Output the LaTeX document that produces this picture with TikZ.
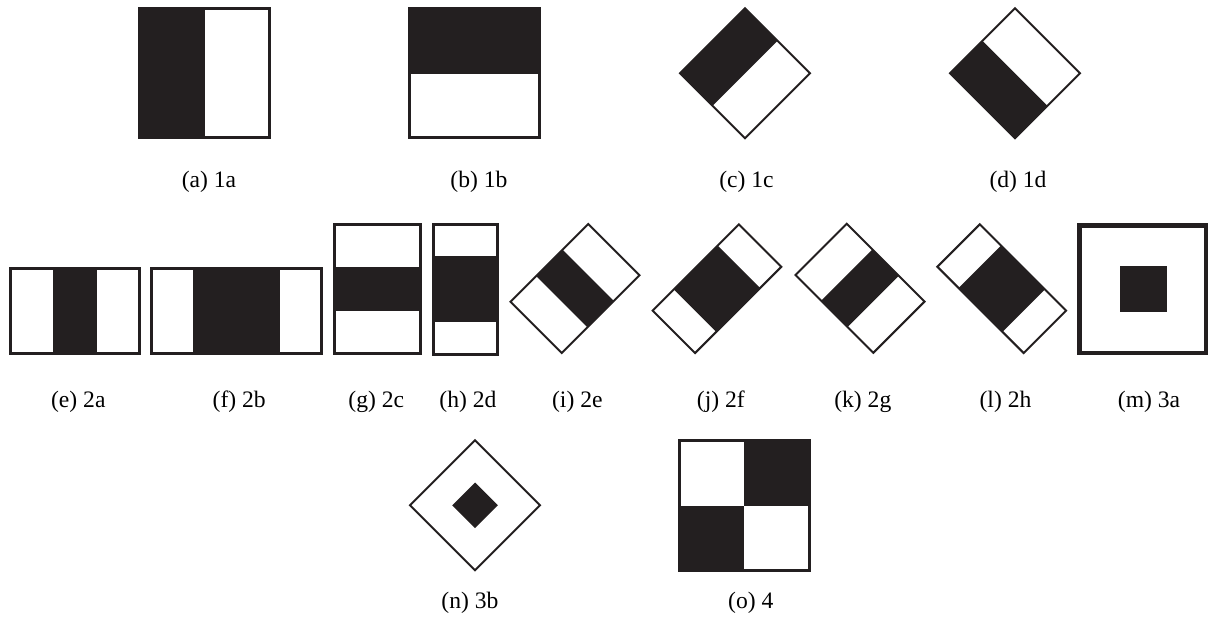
\documentclass[tikz,border=0pt]{standalone}
\usepackage{fontspec}
\setmainfont{Liberation Serif}
\definecolor{ink}{RGB}{35,31,32}
\tikzset{
  blk/.style={fill=ink},
  frame/.style={draw=ink, line width=1.5pt},
  thinframe/.style={draw=ink, line width=1pt, line join=miter},
  heavyframe/.style={draw=ink, line width=2.25pt},
  lab/.style={font=\fontsize{11.8}{14}\selectfont, inner sep=0pt, text=black}
}
\begin{document}
\begin{tikzpicture}[x=0.5pt,y=-0.5pt]
\useasboundingbox (0,0) rectangle (1208,630);
% ---- row 1 ----
% 1a
\fill[blk] (138.3,7.3) rectangle (205,139.3);
\draw[frame] (139.8,8.8) rectangle (269.2,137.8);
% 1b
\fill[blk] (408.3,7.3) rectangle (540.7,74);
\draw[frame] (409.8,8.8) rectangle (539.2,137.8);
% 1c
\fill[blk] (680,73.3) -- (745,8.3) -- (777.5,40.8) -- (712.5,105.8) -- cycle;
\draw[thinframe] (680,73.3) -- (745,8.3) -- (810,73.3) -- (745,138.3) -- cycle;
% 1d
\fill[blk] (950,73.3) -- (982.5,40.8) -- (1047.5,105.8) -- (1015,138.3) -- cycle;
\draw[thinframe] (950,73.3) -- (1015,8.3) -- (1080,73.3) -- (1015,138.3) -- cycle;
\node[lab] (la) at (209,181.7) {(a) 1a};
\node[lab] (lb) at (479,181.7) {(b) 1b};
\node[lab] (lc) at (746.5,181.7) {(c) 1c};
\node[lab] (ld) at (1018,181.7) {(d) 1d};
% ---- row 2 ----
% 2a
\fill[blk] (53.1,267.3) rectangle (96.9,355.3);
\draw[frame] (10.8,268.8) rectangle (139.2,353.8);
% 2b
\fill[blk] (193.3,267.3) rectangle (280,355.3);
\draw[frame] (151.5,268.8) rectangle (321.8,353.8);
% 2c
\fill[blk] (333.3,267.3) rectangle (421.7,311.3);
\draw[frame] (334.8,224.8) rectangle (420.2,353.8);
% 2d
\fill[blk] (431.7,256) rectangle (499,322.5);
\draw[frame] (433.2,224.2) rectangle (497.5,354.2);
% 2e
\begin{scope}[shift={(575,288.5)},rotate=45]
  \fill[blk] (-18.67,-36.25) rectangle (18.67,36.25);
  \draw[thinframe] (-55,-36.25) rectangle (55,36.25);
\end{scope}
% 2f
\begin{scope}[shift={(717,288.7)},rotate=45]
  \fill[blk] (-31,-30) rectangle (31,30);
  \draw[thinframe] (-61,-30) rectangle (61,30);
\end{scope}
% 2g
\begin{scope}[shift={(860,288.3)},rotate=-45]
  \fill[blk] (-18.67,-36.25) rectangle (18.67,36.25);
  \draw[thinframe] (-55,-36.25) rectangle (55,36.25);
\end{scope}
% 2h
\begin{scope}[shift={(1001.7,288.7)},rotate=-45]
  \fill[blk] (-31,-30) rectangle (31,30);
  \draw[thinframe] (-61,-30) rectangle (61,30);
\end{scope}
% 3a
\draw[heavyframe] (1079.5,225.5) rectangle (1205.8,352.8);
\fill[blk] (1120,265.7) rectangle (1167.3,312.3);
\node[lab] (le) at (78.3,401.7) {(e) 2a};
\node[lab] (lf) at (239.2,401.7) {(f) 2b};
\node[lab] (lg) at (376.3,401.7) {(g) 2c};
\node[lab] (lh) at (468,401.7) {(h) 2d};
\node[lab] (li) at (577.3,401.7) {(i) 2e};
\node[lab] (lj) at (720.8,401.7) {(j) 2f};
\node[lab] (lk) at (862.8,401.7) {(k) 2g};
\node[lab] (ll) at (1005.5,401.7) {(l) 2h};
\node[lab] (lm) at (1149,401.7) {(m) 3a};
% ---- row 3 ----
% 3b
\draw[thinframe] (410,505.3) -- (475,440.3) -- (540,505.3) -- (475,570.3) -- cycle;
\fill[blk] (452.2,505.3) -- (475,482.5) -- (497.8,505.3) -- (475,528.1) -- cycle;
% 4
\fill[blk] (744.3,439.3) rectangle (810.7,505.5);
\fill[blk] (678.3,505.5) rectangle (744.3,571.7);
\draw[frame] (679.8,440.8) rectangle (809.2,570.2);
\node[lab] (ln) at (470,603.3) {(n) 3b};
\node[lab] (lo) at (750.8,603.3) {(o) 4};
\end{tikzpicture}
\end{document}
